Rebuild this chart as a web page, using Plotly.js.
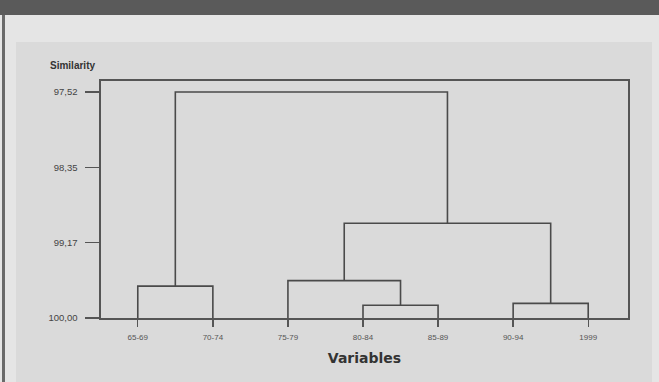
<!DOCTYPE html>
<html>
<head>
<meta charset="utf-8">
<script src="https://cdn.plot.ly/plotly-3.0.1.min.js"></script>
<style>
  html, body { margin:0; padding:0; }
  body { width:659px; height:382px; position:relative; overflow:hidden; background:#e5e5e5; font-family:"Liberation Sans", Arial, sans-serif; }
  #bar { position:absolute; left:0; top:0; width:659px; height:15px; background:#5a5a5a; }
  #lborder { position:absolute; left:2px; top:15px; width:3px; height:367px; background:#6a6a6a; }
  #panel { position:absolute; left:16px; top:42px; width:636px; height:340px; background:#dadada; }
  #chart { position:absolute; left:0; top:0; width:659px; height:382px; }
</style>
</head>
<body>
<div id="bar"></div>
<div id="lborder"></div>
<div id="panel"></div>
<div id="chart"></div>
<script>
// Leaf labels (left to right)
const leafLabels = ["65-69", "70-74", "75-79", "80-84", "85-89", "90-94", "1999"];
// Linkage: leaves are 0..6, merge k creates cluster id 7+k
const mergeA = [3, 5, 0, 2, 10, 9];
const mergeB = [4, 6, 1, 7, 8, 11];
const mergeHeight = [99.86, 99.84, 99.65, 99.59, 98.96, 97.52];
// Y axis ticks
const yTickVals = [97.52, 98.35, 99.17, 100.00];
const yTickText = ["97,52", "98,35", "99,17", "100,00"];
const baseSimilarity = 100.00;

const n = leafLabels.length;
const pos = {}, hgt = {};
for (let i = 0; i < n; i++) { pos[i] = i; hgt[i] = baseSimilarity; }
const xs = [], ys = [];
for (let k = 0; k < mergeA.length; k++) {
  const a = mergeA[k], b = mergeB[k], h = mergeHeight[k];
  xs.push(pos[a], pos[a], pos[b], pos[b], null);
  ys.push(hgt[a], h, h, hgt[b], null);
  pos[n + k] = (pos[a] + pos[b]) / 2;
  hgt[n + k] = h;
}

const traces = [{
  type: "scatter", mode: "lines", x: xs, y: ys,
  line: { color: "#4a4a4a", width: 1.6 }, hoverinfo: "skip", showlegend: false
}];

const layout = {
  width: 659, height: 382,
  margin: { l: 101, r: 31, t: 81, b: 64, pad: 0 },
  paper_bgcolor: "rgba(0,0,0,0)", plot_bgcolor: "rgba(0,0,0,0)",
  font: { family: "Liberation Sans, Arial, sans-serif", color: "#333" },
  showlegend: false,
  xaxis: {
    range: [-0.49, 6.53], showgrid: false, zeroline: false,
    showline: true, mirror: true, linecolor: "#555", linewidth: 1.6,
    tickmode: "array", tickvals: leafLabels.map((_, i) => i), ticktext: leafLabels,
    ticks: "outside", ticklen: 7, tickwidth: 1.4, tickcolor: "#555",
    ticklabelstandoff: 4,
    tickfont: { size: 8, color: "#555" },
    title: { text: "Variables", font: { size: 14, color: "#333", weight: "bold", family: "DejaVu Sans, sans-serif" }, standoff: 12 }
  },
  yaxis: {
    range: [100.0, 97.40], showgrid: false, zeroline: false,
    showline: true, mirror: true, linecolor: "#555", linewidth: 1.6,
    tickmode: "array", tickvals: yTickVals, ticktext: yTickText,
    ticks: "outside", ticklen: 14, tickwidth: 1.4, tickcolor: "#555",
    ticklabelstandoff: 6,
    tickfont: { size: 9.5, color: "#444" }
  },
  annotations: [{
    text: "Similarity", xref: "paper", yref: "paper",
    x: -0.10, y: 1.066, xanchor: "left", yanchor: "middle", showarrow: false,
    font: { size: 10, color: "#333", weight: "bold" }
  }]
};

Plotly.newPlot("chart", traces, layout, { displayModeBar: false, staticPlot: true });
</script>
</body>
</html>
